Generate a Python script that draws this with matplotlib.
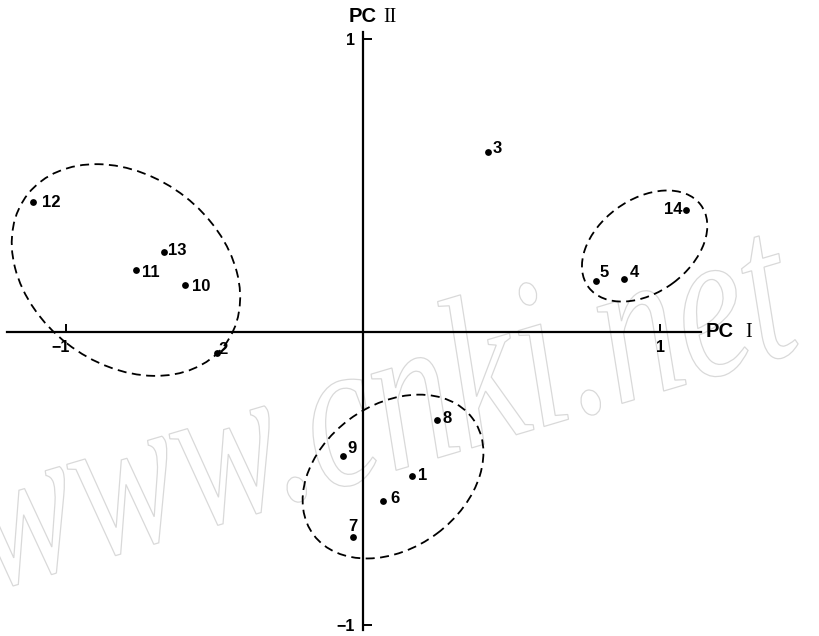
import matplotlib
matplotlib.use('Agg')
import matplotlib.pyplot as plt
from matplotlib.patches import Ellipse, PathPatch
from matplotlib.textpath import TextPath
from matplotlib.font_manager import FontProperties
from matplotlib.transforms import Affine2D, IdentityTransform

# ---- data ----
sample_ids = ['1', '2', '3', '4', '5', '6', '7', '8', '9', '10', '11', '12', '13', '14']
pc1 = [0.165, -0.492, 0.421, 0.879, 0.785, 0.067, -0.034, 0.249, -0.067, -0.599, -0.764, -1.111, -0.670, 1.088]
pc2 = [-0.492, -0.072, 0.615, 0.181, 0.174, -0.578, -0.701, -0.301, -0.424, 0.161, 0.212, 0.444, 0.273, 0.417]

# group outlines (centre PC I, centre PC II, width, height, angle)
group_cx = [-0.798, 0.948, 0.101]
group_cy = [0.212, 0.294, -0.494]
group_w = [0.84, 0.471, 0.667]
group_h = [0.64, 0.317, 0.489]
group_ang = [-38.4, 36.9, 37.0]

xtick_vals = [-1, 1]
xtick_text = ['\u22121', '1']
ytick_vals = [1, -1]
ytick_text = ['1', '\u22121']

# ---- label placement (pixels: dx right, dy_img = text-centre offset downward) ----
label_ha = ['left', 'left', 'left', 'left', 'left', 'left', 'center', 'left', 'left', 'left', 'left', 'left', 'left', 'right']
label_dx = [6, 2, 5, 6, 3, 7, 0, 6, 4, 7, 6, 9, 4, -4]
label_dy = [-2, -5, -5, -8, -10, -4, -12.5, -3, -9, 0, 1, -1, -3, -2]

W, H, DPI = 819, 636, 100
fig = plt.figure(figsize=(W / DPI, H / DPI), dpi=DPI)
ax = fig.add_axes([0, 0, 1, 1])
ax.patch.set_visible(False)

bold = dict(family=['Liberation Sans', 'DejaVu Sans'], fontweight='bold')

# watermark
fp = FontProperties(family='Liberation Serif', style='italic')
tp = TextPath((0, 0), 'www.cnki.net', size=100, prop=fp)
ext = tp.get_extents()
sx = 850.0 / ext.width
sy = sx * 1.35
tr = Affine2D().translate(-ext.x0, 0).scale(sx, sy).rotate_deg(16.5).translate(-8, H - 590) + IdentityTransform()
wm = PathPatch(tp, transform=tr, facecolor='none', edgecolor='#d9d9d9', lw=0.9, zorder=0)
ax.add_artist(wm)

# axes through the origin
for sp in ['top', 'right']:
    ax.spines[sp].set_visible(False)
ax.spines['left'].set_position(('data', 0))
ax.spines['bottom'].set_position(('data', 0))
ax.spines['left'].set_bounds(-1.02, 1.025)
ax.spines['bottom'].set_bounds(-1.199, 1.138)
ax.spines['left'].set_linewidth(1.6)
ax.spines['bottom'].set_linewidth(1.6)
ax.set_xticks(xtick_vals)
ax.set_yticks(ytick_vals)
ax.set_xticklabels([])
ax.set_yticklabels([])
ax.tick_params(axis='x', direction='in', length=6, width=1.4)
ax.tick_params(axis='y', direction='in', length=6.5, width=1.4)

for v, t in zip(xtick_vals, xtick_text):
    ax.annotate(t, (v, 0), xytext=(-5 if v < 0 else 0, -20), textcoords='offset pixels',
                ha='center', va='baseline', fontsize=11.5, **bold)
for v, t in zip(ytick_vals, ytick_text):
    ax.annotate(t, (0, v), xytext=(-8, -6), textcoords='offset pixels',
                ha='right', va='baseline', fontsize=11.5, **bold)

# axis titles
ax.annotate('PC', (1.138, 0), xytext=(5, -5), textcoords='offset pixels',
            ha='left', va='baseline', fontsize=14.5, **bold)
ax.annotate('I', (1.138, 0), xytext=(44, -5), textcoords='offset pixels',
            ha='left', va='baseline', fontsize=14.5, family=['Liberation Serif', 'DejaVu Serif'])
ax.annotate('PC', (0, 1.025), xytext=(-14, 10), textcoords='offset pixels',
            ha='left', va='baseline', fontsize=14.5, **bold)
ax.annotate('II', (0, 1.025), xytext=(20, 10), textcoords='offset pixels',
            ha='left', va='baseline', fontsize=14.5, family=['Liberation Serif', 'DejaVu Serif'])

# group outlines
for cx, cy, w, h, a in zip(group_cx, group_cy, group_w, group_h, group_ang):
    e = Ellipse((cx, cy), w, h, angle=a, facecolor='none', edgecolor='black',
                lw=1.3, linestyle=(0, (5, 3)), zorder=2)
    ax.add_patch(e)

# points
ax.scatter(pc1, pc2, s=24, color='black', zorder=3, linewidths=0)
for i, sid in enumerate(sample_ids):
    ax.annotate(sid, (pc1[i], pc2[i]), xytext=(label_dx[i], -(label_dy[i] + 6)),
                textcoords='offset pixels', ha=label_ha[i], va='baseline',
                fontsize=12, zorder=4, **bold)

ax.set_xlim(-1.222, 1.535)
ax.set_ylim(-1.039, 1.135)

fig.savefig('out.png', dpi=DPI)
